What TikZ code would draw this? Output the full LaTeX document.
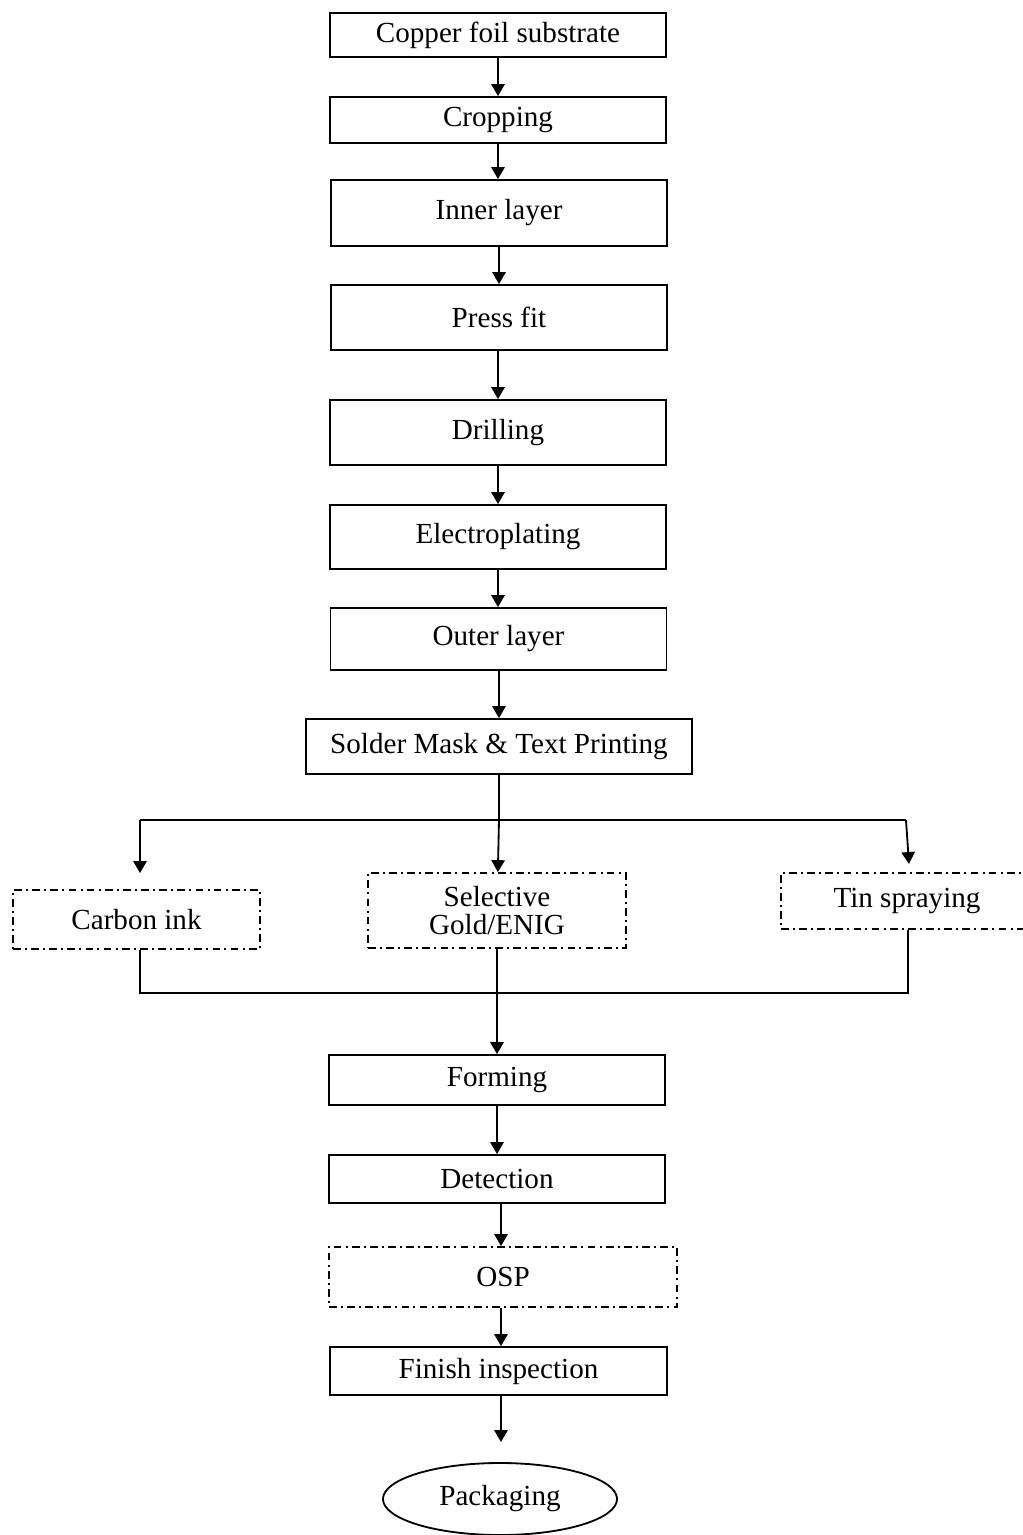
\documentclass[tikz,border=0pt]{standalone}
\usepackage{fontspec}
\setmainfont{Liberation Serif}
\usetikzlibrary{positioning}
\usetikzlibrary{shapes.geometric}
\usetikzlibrary{arrows.meta}
\tikzset{
	every node/.style = {font=\fontsize{20.7}{20}\selectfont},
	stepbox/.style = {draw, rectangle, line width=1.3pt, inner sep=0pt, minimum width=8.4cm},
	optbox/.style = {draw, rectangle, line width=1.3pt, inner sep=0pt, align=center,
		dash pattern=on 5.5pt off 3pt on 1.4pt off 3pt},
	endoval/.style = {draw, ellipse, line width=1.3pt, inner sep=0pt, minimum width=5.85cm, minimum height=1.8cm},
	link/.style = {line width=1.3pt},
	arr/.style = {line width=1.3pt, -{Triangle[length=8.5pt, width=9.5pt]}}
}
\begin{document}
\begin{tikzpicture}[x=0.025cm, y=-0.025cm]
		\useasboundingbox (0,0) rectangle (1022,1535);
		% main line
		\node[stepbox, minimum height=1.1cm] (copper) at (498,35) {Copper foil substrate};
		\node[stepbox, minimum height=1.15cm] (cropping) at (498,120) {Cropping};
		\node[stepbox, minimum height=1.65cm] (inner) at (499,213) {Inner layer};
		\node[stepbox, minimum height=1.625cm] (pressfit) at (499,317.5) {Press fit};
		\node[stepbox, minimum height=1.625cm] (drilling) at (498,432.5) {Drilling};
		\node[stepbox, minimum height=1.6cm] (plating) at (498,537) {Electroplating};
		\node[stepbox, minimum height=1.55cm] (outer) at (498.5,639) {Outer layer};
		\node[stepbox, minimum width=9.65cm, minimum height=1.375cm] (soldermask) at (499,746.5) {Solder Mask \& Text Printing};
		% surface finish
		\node[optbox, minimum width=6.175cm, minimum height=1.475cm] (carbon) at (136.5,919.5) {Carbon ink};
		\node[optbox, minimum width=6.45cm, minimum height=1.875cm] (selective) at (497,910.5) {Selective\\Gold/ENIG};
		\node[optbox, minimum width=6.3cm, minimum height=1.4cm] (tin) at (907,901) {Tin spraying};
		% after finish
		\node[stepbox, minimum height=1.25cm] (forming) at (497,1080) {Forming};
		\node[stepbox, minimum height=1.2cm] (detection) at (497,1179) {Detection};
		\node[optbox, minimum width=8.7cm, minimum height=1.5cm] (osp) at (503,1277) {OSP};
		\node[stepbox, minimum width=8.425cm, minimum height=1.2cm] (finish) at (498.5,1371) {Finish inspection};
		\node[endoval] (packaging) at (500,1499) {Packaging};

		\coordinate (splitL) at (140,820);
		\coordinate (splitR) at (906,820);
		\coordinate (tipL) at (140,873);
		\coordinate (tipR) at (909,864);
		\coordinate (joinL) at (140,993);
		\coordinate (joinR) at (908,993);
		\coordinate (packtip) at (501,1442);

		% arrows
		\draw[arr] (copper) -- (copper |- cropping.north);
		\draw[arr] (cropping) -- (cropping |- inner.north);
		\draw[arr] (inner) -- (inner |- pressfit.north);
		\draw[arr] (pressfit.south -| drilling) -- (drilling);
		\draw[arr] (drilling) -- (plating);
		\draw[arr] (plating) -- (plating |- outer.north);
		\draw[arr] (outer.south -| soldermask) -- (soldermask);
		% split
		\draw[link] (soldermask) -- (soldermask |- splitL);
		\draw[link] (splitL) -- (splitR);
		\draw[arr] (splitL) -- (tipL);
		\draw[arr] (soldermask |- splitL) -- (selective);
		\draw[arr] (splitR) -- (tipR);
		% join
		\draw[link] (joinL |- carbon.south) -- (joinL) -- (joinR) -- (joinR |- tin.south);
		\draw[arr] (selective) -- (selective |- forming.north);
		\draw[arr] (forming) -- (detection);
		\draw[arr] (detection.south -| packtip) -- (packtip |- osp.north);
		\draw[arr] (osp.south -| packtip) -- (packtip |- finish.north);
		\draw[arr] (finish.south -| packtip) -- (packtip);
	\end{tikzpicture}
\end{document}
